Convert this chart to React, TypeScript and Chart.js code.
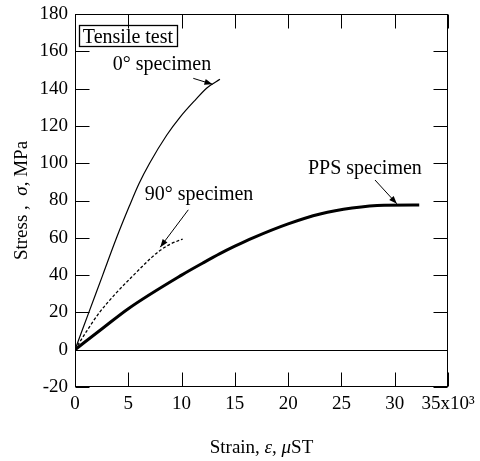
import React, { useEffect, useRef } from "react";
import { Chart, registerables } from "chart.js";

Chart.register(...registerables);

// ---- Data (strain in 10^3 µST, stress in MPa) ----
const strain0 = [0, 1.3, 2.6, 3.9, 5.1, 6.0, 7.0, 8.6, 9.9, 11.3, 12.4, 13.6];
const stress0 = [0, 20, 40, 60, 77, 89, 100, 115, 125, 134, 140.5, 145];

const strain90 = [0, 1.1, 2.3, 3.8, 5.5, 7.2, 8.0, 8.9, 10.1];
const stress90 = [0, 10, 20, 30, 40, 49.5, 53.3, 56.5, 59.3];

const strainPPS = [0, 2.6, 5, 10, 12, 13.6, 15, 16.7, 20, 23, 26, 29, 32.3];
const stressPPS = [0, 11.5, 22, 40, 46.5, 51.5, 55.5, 60, 67.5, 72.8, 76, 77.5, 77.6];

const xTickLabels = ["0", "5", "10", "15", "20", "25", "30", "35x10\u00B3"];
const yTickLabels = ["-20", "0", "20", "40", "60", "80", "100", "120", "140", "160", "180"];

const FONT = '"Liberation Serif", "Times New Roman", serif';

type Seg = { t: string; it?: boolean };

function drawRich(ctx: CanvasRenderingContext2D, segs: Seg[], cx: number, cy: number, size: number) {
  let total = 0;
  const widths = segs.map((s) => {
    ctx.font = `${s.it ? "italic " : ""}${size}px ${FONT}`;
    const w = ctx.measureText(s.t).width;
    total += w;
    return w;
  });
  let x = cx - total / 2;
  ctx.textAlign = "left";
  ctx.textBaseline = "middle";
  segs.forEach((s, i) => {
    ctx.font = `${s.it ? "italic " : ""}${size}px ${FONT}`;
    ctx.fillText(s.t, x, cy);
    x += widths[i];
  });
}

function arrow(ctx: CanvasRenderingContext2D, x1: number, y1: number, x2: number, y2: number) {
  ctx.beginPath();
  ctx.moveTo(x1, y1);
  ctx.lineTo(x2, y2);
  ctx.lineWidth = 1;
  ctx.stroke();
  const ang = Math.atan2(y2 - y1, x2 - x1);
  const L = 8, W = 3;
  ctx.beginPath();
  ctx.moveTo(x2, y2);
  ctx.lineTo(x2 - L * Math.cos(ang) + W * Math.sin(ang), y2 - L * Math.sin(ang) - W * Math.cos(ang));
  ctx.lineTo(x2 - L * Math.cos(ang) - W * Math.sin(ang), y2 - L * Math.sin(ang) + W * Math.cos(ang));
  ctx.closePath();
  ctx.fill();
}

// annotation anchors in data coordinates
const labelNotes = [
  { text: "0\u00B0 specimen", x: 8.16, y: 152.7, ax1: 11.1, ay1: 145.5, ax2: 12.9, ay2: 142.3 },
  { text: "90\u00B0 specimen", x: 11.64, y: 83, ax1: 10.63, ay1: 75, ax2: 8.0, ay2: 55.0 },
  { text: "PPS specimen", x: 27.2, y: 96.9, ax1: 28.15, ay1: 91, ax2: 30.2, ay2: 78.2 },
];

const decorPlugin = {
  id: "decor",
  beforeDatasetsDraw(chart: any) {
    const { ctx, chartArea: a, scales } = chart;
    const y = scales.y;
    ctx.save();
    ctx.strokeStyle = "#000";
    ctx.lineWidth = 1;
    const y0 = Math.round(y.getPixelForValue(0)) + 0.5;
    ctx.beginPath();
    ctx.moveTo(a.left, y0);
    ctx.lineTo(a.right, y0);
    ctx.stroke();
    ctx.restore();
  },
  afterDatasetsDraw(chart: any) {
    const { ctx, chartArea: a, scales } = chart;
    const xs = scales.x, ys = scales.y;
    ctx.save();
    ctx.strokeStyle = "#000";
    ctx.lineWidth = 1;
    const L = Math.round(a.left) + 0.5, R = Math.round(a.right) - 0.5;
    const T = Math.round(a.top) + 0.5, B = Math.round(a.bottom) - 0.5;
    ctx.strokeRect(L, T, R - L, B - T);
    const tl = 14;
    ctx.beginPath();
    xs.ticks.forEach((t: any) => {
      const px = Math.round(xs.getPixelForValue(t.value)) + 0.5;
      ctx.moveTo(px, B);
      ctx.lineTo(px, B - tl);
      ctx.moveTo(px, T);
      ctx.lineTo(px, T + tl);
    });
    ys.ticks.forEach((t: any) => {
      const py = Math.round(ys.getPixelForValue(t.value)) + 0.5;
      ctx.moveTo(L, py);
      ctx.lineTo(L + tl, py);
      ctx.moveTo(R, py);
      ctx.lineTo(R - tl, py);
    });
    ctx.stroke();
    ctx.restore();
  },
  afterDraw(chart: any) {
    const { ctx, chartArea: a, scales } = chart;
    const xs = scales.x, ys = scales.y;
    ctx.save();
    ctx.fillStyle = "#000";
    ctx.strokeStyle = "#000";

    // Tensile test box
    ctx.font = `20px ${FONT}`;
    ctx.textAlign = "center";
    ctx.textBaseline = "middle";
    const bx = xs.getPixelForValue(4.97), by = ys.getPixelForValue(168);
    const tw = ctx.measureText("Tensile test").width;
    ctx.fillText("Tensile test", bx, by + 1);
    ctx.lineWidth = 1.3;
    ctx.strokeRect(Math.round(bx - tw / 2 - 4) + 0.5, Math.round(by - 11) + 0.5, Math.round(tw + 8), 21);

    // specimen labels + arrows
    labelNotes.forEach((n) => {
      ctx.font = `20px ${FONT}`;
      ctx.textAlign = "center";
      ctx.textBaseline = "middle";
      ctx.fillText(n.text, xs.getPixelForValue(n.x), ys.getPixelForValue(n.y));
      arrow(ctx, xs.getPixelForValue(n.ax1), ys.getPixelForValue(n.ay1), xs.getPixelForValue(n.ax2), ys.getPixelForValue(n.ay2));
    });

    // axis titles
    drawRich(ctx, [{ t: "Strain, " }, { t: "\u03B5", it: true }, { t: ", " }, { t: "\u03BC", it: true }, { t: "ST" }], (a.left + a.right) / 2, 448, 19);
    ctx.save();
    ctx.translate(22, (a.top + a.bottom) / 2);
    ctx.rotate(-Math.PI / 2);
    drawRich(ctx, [{ t: "Stress ,  " }, { t: "\u03C3", it: true }, { t: ", MPa" }], 0, 0, 19);
    ctx.restore();

    ctx.restore();
  },
};

export default function App() {
  const ref = useRef<HTMLCanvasElement | null>(null);
  useEffect(() => {
    if (!ref.current) return;
    const mk = (xs: number[], ys: number[]) => xs.map((x, i) => ({ x, y: ys[i] }));
    const chart = new Chart(ref.current, {
      type: "scatter",
      data: {
        datasets: [
          {
            label: "0° specimen",
            data: mk(strain0, stress0),
            showLine: true,
            borderColor: "#000",
            borderWidth: 1.2,
            pointRadius: 0,
            cubicInterpolationMode: "monotone",
          },
          {
            label: "90° specimen",
            data: mk(strain90, stress90),
            showLine: true,
            borderColor: "#000",
            borderWidth: 1.3,
            borderDash: [3, 2],
            pointRadius: 0,
            cubicInterpolationMode: "monotone",
          },
          {
            label: "PPS specimen",
            data: mk(strainPPS, stressPPS),
            showLine: true,
            borderColor: "#000",
            borderWidth: 3,
            pointRadius: 0,
            cubicInterpolationMode: "monotone",
          },
        ],
      },
      options: {
        responsive: false,
        animation: false,
        layout: { padding: { top: 14, right: 32, left: 0, bottom: 0 } },
        plugins: { legend: { display: false }, tooltip: { enabled: false }, title: { display: false } },
        scales: {
          x: {
            type: "linear",
            min: 0,
            max: 35,
            grid: { display: false, drawTicks: false },
            border: { display: false },
            ticks: {
              stepSize: 5,
              autoSkip: false,
              padding: 6,
              color: "#000",
              font: { family: FONT, size: 19 },
              maxRotation: 0,
              minRotation: 0,
              callback: (v: any) => xTickLabels[Math.round(Number(v) / 5)] ?? String(v),
            },
            afterFit: (s: any) => {
              s.height = 74;
              s.paddingLeft = 0;
              s.paddingRight = 0;
            },
          },
          y: {
            type: "linear",
            min: -20,
            max: 180,
            grid: { display: false, drawTicks: false },
            border: { display: false },
            ticks: {
              stepSize: 20,
              autoSkip: false,
              padding: 7,
              color: "#000",
              font: { family: FONT, size: 19 },
              callback: (v: any) => yTickLabels[Math.round((Number(v) + 20) / 20)] ?? String(v),
            },
            afterFit: (s: any) => {
              s.width = 75;
              s.paddingTop = 0;
              s.paddingBottom = 0;
            },
          },
        },
      },
      plugins: [decorPlugin],
    } as any);
    return () => chart.destroy();
  }, []);
  return (
    <div style={{ position: "absolute", left: 0, top: 0, width: 480, height: 461, background: "#fff" }}>
      <canvas ref={ref} width={480} height={461} style={{ display: "block", width: 480, height: 461 }} />
    </div>
  );
}
